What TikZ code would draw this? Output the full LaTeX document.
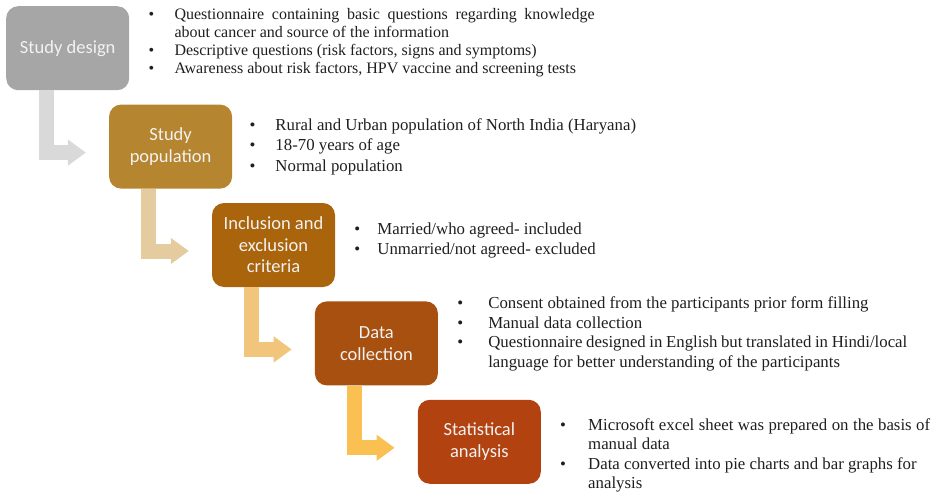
\documentclass[tikz,border=0pt]{standalone}
\usepackage{fontspec}
\setmainfont{Liberation Serif}
\newfontfamily\boxfont{Carlito}
\usetikzlibrary{positioning, arrows.meta}
\definecolor{designcol}{HTML}{A6A6A6}
\definecolor{popncol}{HTML}{B5852F}
\definecolor{critcol}{HTML}{AA640C}
\definecolor{collcol}{HTML}{A8500F}
\definecolor{statcol}{HTML}{B2420F}
\definecolor{flowA}{HTML}{D9D9D9}
\definecolor{flowB}{HTML}{E5CBA0}
\definecolor{flowC}{HTML}{F2C57C}
\definecolor{flowD}{HTML}{FBC052}
\tikzset{
  x=1pt, y=-1pt,
  node distance=14pt and -20.5pt,
  box/.style={rectangle, rounded corners=12pt, minimum width=123pt,
    minimum height=84pt, inner sep=2pt, align=center, text=white!95!black,
    font=\boxfont\fontsize{18.5}{21.5}\selectfont},
  list/.style={inner sep=0pt, text=black!88,
    font=\fontsize{16.8}{19.8}\selectfont},
  flow/.style={line width=15pt, line join=miter, -{Triangle[length=18pt,width=25pt]}},
}

\begin{document}
\begin{tikzpicture}
        \useasboundingbox (0,0) rectangle (940,493);

        % steps
        \node[box, fill=designcol, anchor=north west] (design) at (6,6) {Study design};
        \node[box, fill=popncol, below right=of design] (popn) {Study\\population};
        \node[box, fill=critcol, below right=of popn] (crit) {Inclusion and\\exclusion\\criteria};
        \node[box, fill=collcol, below right=of crit] (coll) {Data\\collection};
        \node[box, fill=statcol, below right=of coll] (stat) {Statistical\\analysis};

        % bent arrows
        \draw[flow, draw=flowA] ([xshift=40pt]design.south west) |- ([xshift=-23pt,yshift=-6pt]popn.west);
        \draw[flow, draw=flowB] ([xshift=40pt]popn.south west) |- ([xshift=-23pt,yshift=-6pt]crit.west);
        \draw[flow, draw=flowC] ([xshift=40pt]crit.south west) |- ([xshift=-23pt,yshift=-6pt]coll.west);
        \draw[flow, draw=flowD] ([xshift=40pt]coll.south west) |- ([xshift=-23pt,yshift=-6pt]stat.west);

        % bullet lists
        \node[list, font=\fontsize{16}{18}\selectfont, below right=13pt and 19pt of design.north east, anchor=base west] (designtxt) {%
          \begin{tabular}[t]{@{}p{26pt}@{}l@{}}
          \textbullet & \makebox[420pt][s]{Questionnaire containing basic questions regarding knowledge}\\
           & about cancer and source of the information\\
          \textbullet & Descriptive questions (risk factors, signs and symptoms)\\
          \textbullet & Awareness about risk factors, HPV vaccine and screening tests
          \end{tabular}};
        \node[list, font=\fontsize{16.8}{20.3}\selectfont, below right=26pt and 17pt of popn.north east, anchor=base west] (popntxt) {%
          \begin{tabular}[t]{@{}p{26pt}@{}l@{}}
          \textbullet & Rural and Urban population of North India (Haryana)\\
          \textbullet & 18-70 years of age\\
          \textbullet & Normal population
          \end{tabular}};
        \node[list, below right=32pt and 19pt of crit.north east, anchor=base west] (crittxt) {%
          \begin{tabular}[t]{@{}p{23pt}@{}l@{}}
          \textbullet & Married/who agreed- included\\
          \textbullet & Unmarried/not agreed- excluded
          \end{tabular}};
        \node[list, below right=7pt and 19pt of coll.north east, anchor=base west] (colltxt) {%
          \begin{tabular}[t]{@{}p{31pt}@{}l@{}}
          \textbullet & Consent obtained from the participants prior form filling\\
          \textbullet & Manual data collection\\
          \textbullet & \makebox[419pt][s]{Questionnaire designed in English but translated in Hindi/local}\\
           & language for better understanding of the participants
          \end{tabular}};
        \node[list, font=\fontsize{16.8}{19.2}\selectfont, below right=31pt and 19pt of stat.north east, anchor=base west] (stattxt) {%
          \begin{tabular}[t]{@{}p{28pt}@{}l@{}}
          \textbullet & \makebox[342pt][s]{Microsoft excel sheet was prepared on the basis of}\\
           & manual data\\
          \textbullet & Data converted into pie charts and bar graphs for\\
           & analysis
          \end{tabular}};
\end{tikzpicture}
\end{document}
